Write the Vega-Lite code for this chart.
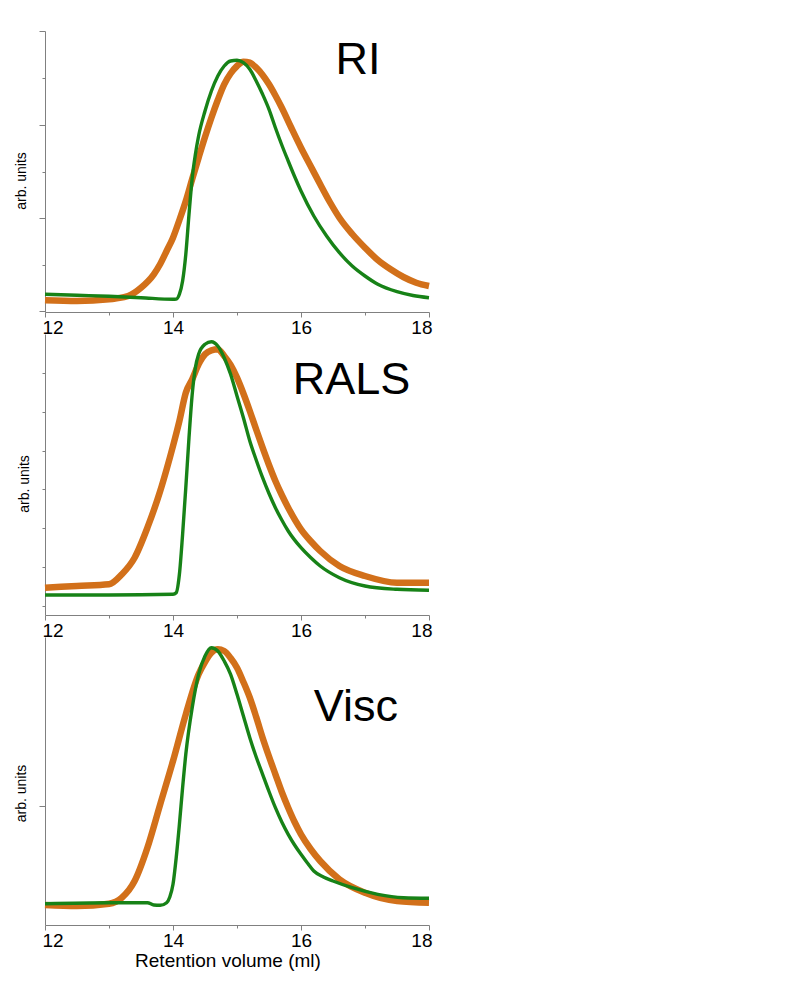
{
  "$schema": "https://vega.github.io/schema/vega-lite/v6.json",
  "padding": {"left": 14, "top": 30, "right": 10, "bottom": 10},
  "bounds": "flush",
  "spacing": 22,
  "datasets": {
    "ri": [
      {"series": "trace 1", "x": 12, "y": 11.7}, {"series": "trace 1", "x": 12.5, "y": 11}, {"series": "trace 1", "x": 13, "y": 12.7}, {"series": "trace 1", "x": 13.1, "y": 13.5}, {"series": "trace 1", "x": 13.3, "y": 16}, {"series": "trace 1", "x": 13.5, "y": 24.3}, {"series": "trace 1", "x": 13.7, "y": 37.7}, {"series": "trace 1", "x": 13.8, "y": 48}, {"series": "trace 1", "x": 13.9, "y": 61}, {"series": "trace 1", "x": 14.0, "y": 74.3}, {"series": "trace 1", "x": 14.1, "y": 92}, {"series": "trace 1", "x": 14.2, "y": 111}, {"series": "trace 1", "x": 14.3, "y": 133}, {"series": "trace 1", "x": 14.4, "y": 154.3}, {"series": "trace 1", "x": 14.5, "y": 175}, {"series": "trace 1", "x": 14.6, "y": 194.3}, {"series": "trace 1", "x": 14.7, "y": 212}, {"series": "trace 1", "x": 14.8, "y": 227.7}, {"series": "trace 1", "x": 14.9, "y": 238.5}, {"series": "trace 1", "x": 15.0, "y": 246}, {"series": "trace 1", "x": 15.1, "y": 250.3}, {"series": "trace 1", "x": 15.2, "y": 249.3}, {"series": "trace 1", "x": 15.3, "y": 244.3}, {"series": "trace 1", "x": 15.4, "y": 237}, {"series": "trace 1", "x": 15.5, "y": 227.7}, {"series": "trace 1", "x": 15.6, "y": 216.5}, {"series": "trace 1", "x": 15.7, "y": 204.3}, {"series": "trace 1", "x": 15.85, "y": 184}, {"series": "trace 1", "x": 16.0, "y": 164.3}, {"series": "trace 1", "x": 16.15, "y": 146}, {"series": "trace 1", "x": 16.3, "y": 127.7}, {"series": "trace 1", "x": 16.45, "y": 110}, {"series": "trace 1", "x": 16.6, "y": 94.3}, {"series": "trace 1", "x": 16.8, "y": 78}, {"series": "trace 1", "x": 17.0, "y": 64.3}, {"series": "trace 1", "x": 17.2, "y": 52}, {"series": "trace 1", "x": 17.4, "y": 42.7}, {"series": "trace 1", "x": 17.6, "y": 35}, {"series": "trace 1", "x": 17.8, "y": 29.3}, {"series": "trace 1", "x": 18, "y": 26},
      {"series": "trace 2", "x": 12, "y": 17.7}, {"series": "trace 2", "x": 12.5, "y": 16.7}, {"series": "trace 2", "x": 13, "y": 15.7}, {"series": "trace 2", "x": 13.5, "y": 14.3}, {"series": "trace 2", "x": 14, "y": 12.7}, {"series": "trace 2", "x": 14.05, "y": 12.9}, {"series": "trace 2", "x": 14.1, "y": 17.7}, {"series": "trace 2", "x": 14.15, "y": 31}, {"series": "trace 2", "x": 14.2, "y": 57.7}, {"series": "trace 2", "x": 14.25, "y": 97.7}, {"series": "trace 2", "x": 14.3, "y": 134}, {"series": "trace 2", "x": 14.35, "y": 157.7}, {"series": "trace 2", "x": 14.4, "y": 176}, {"series": "trace 2", "x": 14.5, "y": 201}, {"series": "trace 2", "x": 14.6, "y": 221}, {"series": "trace 2", "x": 14.7, "y": 236}, {"series": "trace 2", "x": 14.8, "y": 246}, {"series": "trace 2", "x": 14.9, "y": 251}, {"series": "trace 2", "x": 15.0, "y": 251.7}, {"series": "trace 2", "x": 15.1, "y": 249.3}, {"series": "trace 2", "x": 15.2, "y": 242.7}, {"series": "trace 2", "x": 15.3, "y": 231}, {"series": "trace 2", "x": 15.4, "y": 217.7}, {"series": "trace 2", "x": 15.5, "y": 202.7}, {"series": "trace 2", "x": 15.6, "y": 184.3}, {"series": "trace 2", "x": 15.7, "y": 167}, {"series": "trace 2", "x": 15.8, "y": 151}, {"series": "trace 2", "x": 15.9, "y": 135.5}, {"series": "trace 2", "x": 16.0, "y": 121}, {"series": "trace 2", "x": 16.2, "y": 96}, {"series": "trace 2", "x": 16.4, "y": 76}, {"series": "trace 2", "x": 16.6, "y": 59.3}, {"series": "trace 2", "x": 16.8, "y": 46}, {"series": "trace 2", "x": 17.0, "y": 36}, {"series": "trace 2", "x": 17.2, "y": 27.7}, {"series": "trace 2", "x": 17.5, "y": 20.3}, {"series": "trace 2", "x": 17.75, "y": 16.5}, {"series": "trace 2", "x": 18, "y": 14.3}
    ],
    "rals": [
      {"series": "trace 1", "x": 12, "y": 27.3}, {"series": "trace 1", "x": 12.5, "y": 29}, {"series": "trace 1", "x": 13, "y": 30.7}, {"series": "trace 1", "x": 13.2, "y": 40.7}, {"series": "trace 1", "x": 13.4, "y": 57.3}, {"series": "trace 1", "x": 13.6, "y": 87.3}, {"series": "trace 1", "x": 13.8, "y": 124}, {"series": "trace 1", "x": 13.9, "y": 145.7}, {"series": "trace 1", "x": 14.0, "y": 169}, {"series": "trace 1", "x": 14.1, "y": 194}, {"series": "trace 1", "x": 14.2, "y": 222.3}, {"series": "trace 1", "x": 14.3, "y": 235.7}, {"series": "trace 1", "x": 14.4, "y": 250.7}, {"series": "trace 1", "x": 14.5, "y": 260.7}, {"series": "trace 1", "x": 14.6, "y": 264.7}, {"series": "trace 1", "x": 14.7, "y": 265.7}, {"series": "trace 1", "x": 14.8, "y": 259}, {"series": "trace 1", "x": 14.9, "y": 250}, {"series": "trace 1", "x": 15.0, "y": 237.3}, {"series": "trace 1", "x": 15.1, "y": 221.5}, {"series": "trace 1", "x": 15.2, "y": 204}, {"series": "trace 1", "x": 15.3, "y": 185.5}, {"series": "trace 1", "x": 15.4, "y": 167.3}, {"series": "trace 1", "x": 15.5, "y": 150}, {"series": "trace 1", "x": 15.6, "y": 134}, {"series": "trace 1", "x": 15.7, "y": 120}, {"series": "trace 1", "x": 15.8, "y": 107.3}, {"series": "trace 1", "x": 16.0, "y": 85.7}, {"series": "trace 1", "x": 16.15, "y": 74}, {"series": "trace 1", "x": 16.3, "y": 64}, {"series": "trace 1", "x": 16.6, "y": 49}, {"series": "trace 1", "x": 17.0, "y": 39}, {"series": "trace 1", "x": 17.5, "y": 32.3}, {"series": "trace 1", "x": 18, "y": 32.3},
      {"series": "trace 2", "x": 12, "y": 20}, {"series": "trace 2", "x": 13, "y": 20}, {"series": "trace 2", "x": 14, "y": 20.7}, {"series": "trace 2", "x": 14.05, "y": 22.3}, {"series": "trace 2", "x": 14.1, "y": 40.7}, {"series": "trace 2", "x": 14.15, "y": 80.7}, {"series": "trace 2", "x": 14.2, "y": 127.3}, {"series": "trace 2", "x": 14.25, "y": 177.3}, {"series": "trace 2", "x": 14.3, "y": 220.7}, {"series": "trace 2", "x": 14.35, "y": 247.3}, {"series": "trace 2", "x": 14.4, "y": 260.7}, {"series": "trace 2", "x": 14.5, "y": 270.7}, {"series": "trace 2", "x": 14.6, "y": 273.3}, {"series": "trace 2", "x": 14.7, "y": 269}, {"series": "trace 2", "x": 14.8, "y": 257.3}, {"series": "trace 2", "x": 14.9, "y": 240.7}, {"series": "trace 2", "x": 15.0, "y": 219}, {"series": "trace 2", "x": 15.1, "y": 197.3}, {"series": "trace 2", "x": 15.2, "y": 174}, {"series": "trace 2", "x": 15.3, "y": 155}, {"series": "trace 2", "x": 15.4, "y": 137.3}, {"series": "trace 2", "x": 15.5, "y": 121.5}, {"series": "trace 2", "x": 15.6, "y": 107.3}, {"series": "trace 2", "x": 15.7, "y": 95}, {"series": "trace 2", "x": 15.8, "y": 84}, {"series": "trace 2", "x": 16.0, "y": 67.3}, {"series": "trace 2", "x": 16.15, "y": 57.5}, {"series": "trace 2", "x": 16.3, "y": 49}, {"series": "trace 2", "x": 16.6, "y": 37.3}, {"series": "trace 2", "x": 17.0, "y": 29}, {"series": "trace 2", "x": 17.5, "y": 25.7}, {"series": "trace 2", "x": 18, "y": 24.7}
    ],
    "visc": [
      {"series": "trace 1", "x": 12, "y": 20}, {"series": "trace 1", "x": 12.5, "y": 19}, {"series": "trace 1", "x": 13, "y": 21.3}, {"series": "trace 1", "x": 13.2, "y": 27.3}, {"series": "trace 1", "x": 13.4, "y": 44}, {"series": "trace 1", "x": 13.6, "y": 77.3}, {"series": "trace 1", "x": 13.8, "y": 120.7}, {"series": "trace 1", "x": 14.0, "y": 164}, {"series": "trace 1", "x": 14.2, "y": 210.7}, {"series": "trace 1", "x": 14.4, "y": 250.7}, {"series": "trace 1", "x": 14.5, "y": 263}, {"series": "trace 1", "x": 14.6, "y": 272.3}, {"series": "trace 1", "x": 14.7, "y": 275.7}, {"series": "trace 1", "x": 14.8, "y": 274}, {"series": "trace 1", "x": 14.9, "y": 267}, {"series": "trace 1", "x": 15.0, "y": 257.3}, {"series": "trace 1", "x": 15.1, "y": 243}, {"series": "trace 1", "x": 15.2, "y": 227.3}, {"series": "trace 1", "x": 15.3, "y": 208}, {"series": "trace 1", "x": 15.4, "y": 187.3}, {"series": "trace 1", "x": 15.5, "y": 168.5}, {"series": "trace 1", "x": 15.6, "y": 150.7}, {"series": "trace 1", "x": 15.7, "y": 133}, {"series": "trace 1", "x": 15.8, "y": 117.3}, {"series": "trace 1", "x": 15.9, "y": 103}, {"series": "trace 1", "x": 16.0, "y": 90.7}, {"series": "trace 1", "x": 16.15, "y": 76}, {"series": "trace 1", "x": 16.3, "y": 64}, {"series": "trace 1", "x": 16.6, "y": 45.7}, {"series": "trace 1", "x": 17.0, "y": 32.3}, {"series": "trace 1", "x": 17.5, "y": 24}, {"series": "trace 1", "x": 18, "y": 22.3},
      {"series": "trace 2", "x": 12, "y": 21.3}, {"series": "trace 2", "x": 13, "y": 22.3}, {"series": "trace 2", "x": 13.6, "y": 22.3}, {"series": "trace 2", "x": 13.7, "y": 20}, {"series": "trace 2", "x": 13.8, "y": 19.7}, {"series": "trace 2", "x": 13.9, "y": 22.3}, {"series": "trace 2", "x": 13.95, "y": 28}, {"series": "trace 2", "x": 14.0, "y": 40.7}, {"series": "trace 2", "x": 14.05, "y": 67.3}, {"series": "trace 2", "x": 14.1, "y": 100.7}, {"series": "trace 2", "x": 14.15, "y": 137.3}, {"series": "trace 2", "x": 14.2, "y": 170.7}, {"series": "trace 2", "x": 14.3, "y": 217.3}, {"series": "trace 2", "x": 14.4, "y": 250.7}, {"series": "trace 2", "x": 14.5, "y": 269}, {"series": "trace 2", "x": 14.6, "y": 277.3}, {"series": "trace 2", "x": 14.7, "y": 274}, {"series": "trace 2", "x": 14.8, "y": 264}, {"series": "trace 2", "x": 14.9, "y": 250.7}, {"series": "trace 2", "x": 15.0, "y": 230.7}, {"series": "trace 2", "x": 15.1, "y": 209}, {"series": "trace 2", "x": 15.2, "y": 187.3}, {"series": "trace 2", "x": 15.3, "y": 168}, {"series": "trace 2", "x": 15.4, "y": 150.7}, {"series": "trace 2", "x": 15.5, "y": 133.5}, {"series": "trace 2", "x": 15.6, "y": 117.3}, {"series": "trace 2", "x": 15.7, "y": 103}, {"series": "trace 2", "x": 15.8, "y": 90.7}, {"series": "trace 2", "x": 15.9, "y": 80}, {"series": "trace 2", "x": 16.0, "y": 70.7}, {"series": "trace 2", "x": 16.1, "y": 62}, {"series": "trace 2", "x": 16.2, "y": 54}, {"series": "trace 2", "x": 16.35, "y": 48}, {"series": "trace 2", "x": 16.5, "y": 44}, {"series": "trace 2", "x": 16.8, "y": 37.3}, {"series": "trace 2", "x": 17.2, "y": 30.7}, {"series": "trace 2", "x": 17.6, "y": 27.3}, {"series": "trace 2", "x": 18, "y": 26.7}
    ]
  },
  "vconcat": [
    {
      "width": 384, "height": 281,
      "layer": [
        {"data": {"name": "ri"}, "transform": [{"filter": "datum.series === 'trace 1'"}],
         "mark": {"type": "line", "color": "#d2701a", "strokeWidth": 6.5, "clip": false, "interpolate": "monotone"},
         "encoding": {
           "x": {"field": "x", "type": "quantitative", "scale": {"domain": [12, 18], "nice": false, "zero": false},
                 "axis": {"title": null, "values": [12, 13, 14, 15, 16, 17, 18], "format": "d", "labelExpr": "datum.value % 2 === 0 ? datum.label : ''", "tickSize": {"condition": {"test": "datum.value % 2 === 0", "value": 5}, "value": 3}, "labelPadding": 1, "labelFontSize": 19, "labelFlush": true, "labelFlushOffset": 3}},
           "y": {"field": "y", "type": "quantitative", "scale": {"domain": [0, 281], "nice": false},
                 "axis": {"title": "arb. units", "labels": false, "values": [1, 47, 94, 140, 187, 234, 281], "tickSize": {"condition": {"test": "indexof([1, 94, 187, 281], datum.value) >= 0", "value": 6}, "value": 3}, "titleFontSize": 14, "titlePadding": 10, "titleY": 149.5}}
         }},
        {"data": {"name": "ri"}, "transform": [{"filter": "datum.series === 'trace 2'"}],
         "mark": {"type": "line", "color": "#178217", "strokeWidth": 3.4, "clip": false, "interpolate": "monotone"},
         "encoding": {"x": {"field": "x", "type": "quantitative"}, "y": {"field": "y", "type": "quantitative"}}},
        {"data": {"values": [{"label": "RI"}]},
         "mark": {"type": "text", "font": "Liberation Sans", "fontSize": 45, "align": "left", "baseline": "alphabetic", "color": "#000000"},
         "encoding": {"x": {"datum": 16.54}, "y": {"datum": 237.7}, "text": {"field": "label"}}}
      ]
    },
    {
      "width": 384, "height": 281,
      "layer": [
        {"data": {"name": "rals"}, "transform": [{"filter": "datum.series === 'trace 1'"}],
         "mark": {"type": "line", "color": "#d2701a", "strokeWidth": 6.5, "clip": false, "interpolate": "monotone"},
         "encoding": {
           "x": {"field": "x", "type": "quantitative", "scale": {"domain": [12, 18], "nice": false, "zero": false},
                 "axis": {"title": null, "values": [12, 13, 14, 15, 16, 17, 18], "format": "d", "labelExpr": "datum.value % 2 === 0 ? datum.label : ''", "tickSize": {"condition": {"test": "datum.value % 2 === 0", "value": 5}, "value": 3}, "labelPadding": 1, "labelFontSize": 19, "labelFlush": true, "labelFlushOffset": 3}},
           "y": {"field": "y", "type": "quantitative", "scale": {"domain": [0, 281], "nice": false},
                 "axis": {"title": "arb. units", "labels": false, "values": [9, 28, 48, 67, 87, 106, 126, 145, 164, 184, 203, 222, 242, 261], "tickSize": {"condition": {"test": "indexof([28, 67, 106, 145, 184, 222, 261], datum.value) >= 0", "value": 6}, "value": 3}, "titleFontSize": 14, "titlePadding": 10, "titleY": 149.5}}
         }},
        {"data": {"name": "rals"}, "transform": [{"filter": "datum.series === 'trace 2'"}],
         "mark": {"type": "line", "color": "#178217", "strokeWidth": 3.4, "clip": false, "interpolate": "monotone"},
         "encoding": {"x": {"field": "x", "type": "quantitative"}, "y": {"field": "y", "type": "quantitative"}}},
        {"data": {"values": [{"label": "RALS"}]},
         "mark": {"type": "text", "font": "Liberation Sans", "fontSize": 45, "align": "left", "baseline": "alphabetic", "color": "#000000"},
         "encoding": {"x": {"datum": 15.87}, "y": {"datum": 220.7}, "text": {"field": "label"}}}
      ]
    },
    {
      "width": 384, "height": 288,
      "layer": [
        {"data": {"name": "visc"}, "transform": [{"filter": "datum.series === 'trace 1'"}],
         "mark": {"type": "line", "color": "#d2701a", "strokeWidth": 6.5, "clip": false, "interpolate": "monotone"},
         "encoding": {
           "x": {"field": "x", "type": "quantitative", "scale": {"domain": [12, 18], "nice": false, "zero": false},
                 "axis": {"title": "Retention volume (ml)", "values": [12, 13, 14, 15, 16, 17, 18], "format": "d", "labelExpr": "datum.value % 2 === 0 ? datum.label : ''", "tickSize": {"condition": {"test": "datum.value % 2 === 0", "value": 5}, "value": 3}, "labelPadding": 1, "labelFontSize": 19, "labelFlush": true, "labelFlushOffset": 3, "titleFontSize": 19, "titleX": 182.5, "titleY": 41, "titleBaseline": "alphabetic"}},
           "y": {"field": "y", "type": "quantitative", "scale": {"domain": [0, 288], "nice": false},
                 "axis": {"title": "arb. units", "labels": false, "values": [119], "tickSize": 6, "titleFontSize": 14, "titlePadding": 10, "titleY": 156}}
         }},
        {"data": {"name": "visc"}, "transform": [{"filter": "datum.series === 'trace 2'"}],
         "mark": {"type": "line", "color": "#178217", "strokeWidth": 3.4, "clip": false, "interpolate": "monotone"},
         "encoding": {"x": {"field": "x", "type": "quantitative"}, "y": {"field": "y", "type": "quantitative"}}},
        {"data": {"values": [{"label": "Visc"}]},
         "mark": {"type": "text", "font": "Liberation Sans", "fontSize": 45, "align": "left", "baseline": "alphabetic", "color": "#000000"},
         "encoding": {"x": {"datum": 16.2}, "y": {"datum": 204}, "text": {"field": "label"}}}
      ]
    }
  ],
  "config": {
    "view": {"stroke": null},
    "font": "Liberation Sans",
    "axis": {"grid": false, "domainColor": "#808080", "tickColor": "#808080", "labelColor": "#000000", "titleColor": "#000000", "labelFont": "Liberation Sans", "titleFont": "Liberation Sans", "titleFontWeight": "normal", "domainWidth": 1, "tickWidth": 1}
  }
}
